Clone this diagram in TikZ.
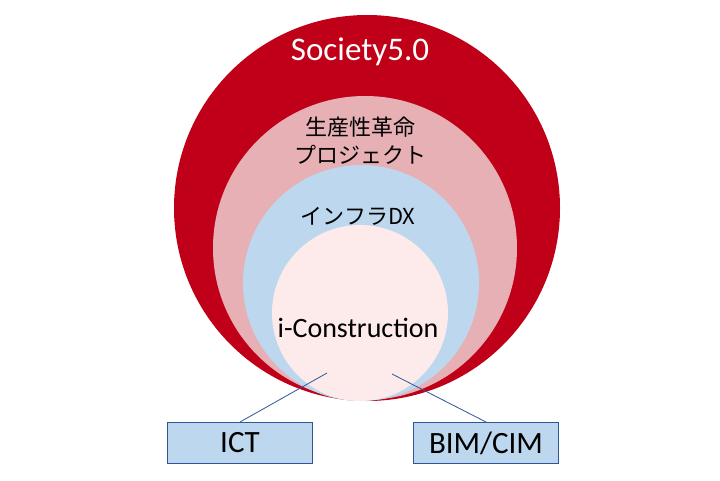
\documentclass[tikz,border=0pt]{standalone}
\usepackage{fontspec}
\setmainfont{Carlito}
\newfontfamily\cjk{Noto Sans CJK JP}
\definecolor{cred}{HTML}{C00018}
\definecolor{cpink}{HTML}{E6B0B5}
\definecolor{cblue}{HTML}{BDD7EE}
\definecolor{cinner}{HTML}{FDEBEB}
\definecolor{cline}{HTML}{2F5597}
\begin{document}
\begin{tikzpicture}[x=1pt,y=-1pt,
  box/.style={draw=cline,fill=cblue,line width=1pt,minimum width=145pt,minimum height=41pt,inner sep=0pt,font=\fontsize{31}{33}\selectfont},
  lbl/.style={font=\fontsize{28}{30}\selectfont}]
\useasboundingbox (0,0) rectangle (720,480);
\fill[white] (0,0) rectangle (720,480);
\node[circle,fill=cred,minimum size=386pt,inner sep=0pt] (c1) at (367,208) {};
\node[circle,fill=cpink,minimum size=304pt,inner sep=0pt] (c2) at (365,248) {};
\node[circle,fill=cblue,minimum size=236pt,inner sep=0pt] (c3) at (361,283) {};
\node[circle,fill=cinner,minimum size=176pt,inner sep=0pt] (c4) at (360,313) {};
\node[text=white,font=\fontsize{33}{35}\selectfont] (t1) at (360,52) {Society5.0};
\node[align=center,font=\cjk\fontsize{22}{28}\selectfont] (t2) at (360,141) {生産性革命\\プロジェクト};
\node[font=\cjk\fontsize{22}{26}\selectfont] (t3) at (358,216) {インフラDX};
\node[lbl] (t4) at (358,328) {i-Construction};
\node[box] (b1) at (240,443) {ICT};
\node[box] (b2) at (486,443) {BIM/CIM};
\coordinate (p1) at (327,373);
\coordinate (p2) at (392,374);
\draw[cline,line width=0.8pt] (p1) -- (b1.north);
\draw[cline,line width=0.8pt] (p2) -- (b2.north);
\end{tikzpicture}
\end{document}
